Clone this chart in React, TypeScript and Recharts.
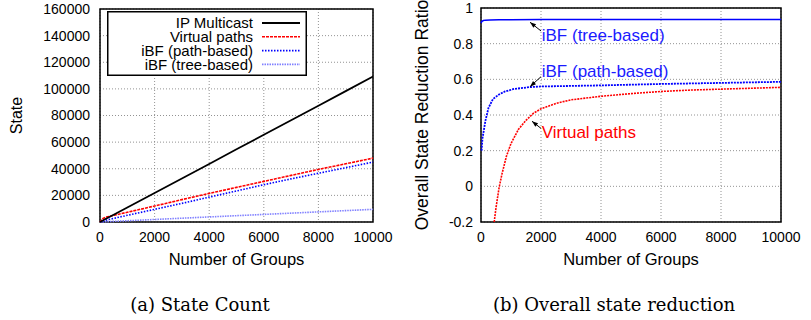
import React from 'react';
import { LineChart, Line, XAxis, YAxis, CartesianGrid, ReferenceArea, ReferenceDot, ReferenceLine } from 'recharts';

// ---- Left chart: state count ----
const groups = [0, 100, 200, 500, 1000, 2000, 3000, 4000, 5000, 6000, 7000, 8000, 9000, 10000];
const ipMulticast = [0, 1100, 2200, 5450, 10900, 21800, 32700, 43600, 54600, 65500, 76400, 87300, 98300, 109300];
const virtualPaths = [0, 2500, 3600, 5000, 7300, 12000, 16800, 21500, 26000, 30500, 35000, 39500, 43700, 48000];
const ibfPath = [0, 700, 1300, 2700, 5000, 9500, 14000, 18700, 23300, 28000, 32400, 36600, 40800, 45000];
const ibfTree = [0, 100, 200, 480, 950, 1900, 2850, 3800, 4750, 5700, 6650, 7600, 8550, 9500];
const stateTicks = [0, 20000, 40000, 60000, 80000, 100000, 120000, 140000, 160000];
const groupTicks = [0, 2000, 4000, 6000, 8000, 10000];
const seriesNames = ['IP Multicast', 'Virtual paths', 'iBF (path-based)', 'iBF (tree-based)'];

// ---- Right chart: overall state reduction ----
const treeX = [0, 30, 80, 150, 300, 600, 1000, 2000, 4000, 6000, 8000, 10000];
const treeY = [0.915, 0.925, 0.93, 0.932, 0.933, 0.934, 0.934, 0.935, 0.935, 0.935, 0.935, 0.935];
const pathX = [20, 50, 100, 150, 250, 400, 600, 800, 1100, 1600, 2000, 3000, 4000, 5000, 6000, 7000, 8000, 9000, 10000];
const pathY = [0.2, 0.27, 0.32, 0.37, 0.44, 0.49, 0.515, 0.532, 0.546, 0.556, 0.56, 0.563, 0.566, 0.57, 0.574, 0.577, 0.58, 0.583, 0.586];
const vpX = [440, 500, 600, 700, 850, 1000, 1250, 1500, 1750, 2000, 2500, 3000, 4000, 5000, 6000, 7000, 8000, 9000, 10000];
const vpY = [-0.2, -0.12, -0.01, 0.07, 0.17, 0.24, 0.32, 0.37, 0.41, 0.435, 0.465, 0.485, 0.505, 0.52, 0.532, 0.54, 0.545, 0.55, 0.555];
const ratioTicks = [-0.2, 0, 0.2, 0.4, 0.6, 0.8, 1];
const annotLabels = ['iBF (tree-based)', 'iBF (path-based)', 'Virtual paths'];
const annotX = [2025, 2025, 2025];
const annotY = [0.813, 0.615, 0.269];
const arrowFromX = [2002, 2002, 2000];
const arrowFromY = [0.871, 0.615, 0.325];
const arrowToX = [1635, 1635, 1700];
const arrowToY = [0.92, 0.559, 0.365];

const captions = ['(a) State Count', '(b) Overall state reduction'];

const leftData = groups.map((g, i) => ({ x: g, ip: ipMulticast[i], vp: virtualPaths[i], pb: ibfPath[i], tb: ibfTree[i] }));
const treeData = treeX.map((x, i) => ({ x, y: treeY[i] }));
const pathData = pathX.map((x, i) => ({ x, y: pathY[i] }));
const vpData = vpX.map((x, i) => ({ x, y: vpY[i] }));

const FONT = '"Liberation Sans", Arial, Helvetica, sans-serif';
const tickStyle = { fontSize: 14, fill: '#000', fontFamily: FONT };

const styles = [
  { stroke: '#000000', strokeWidth: 1.8, dash: undefined as string | undefined },
  { stroke: '#ff0000', strokeWidth: 1.6, dash: '3 1' },
  { stroke: '#0000ff', strokeWidth: 1.6, dash: '1.5 1.5' },
  { stroke: '#8080ff', strokeWidth: 1.6, dash: '1.5 1' },
];

const annotColors = ['#1a1aff', '#1a1aff', '#ff0000'];

const yLabel = (text: string, dx: number, size: number) => (props: any) => {
  const vb = props.viewBox || {};
  const cx = vb.x + dx;
  const cy = vb.y + vb.height / 2;
  return (
    <text x={cx} y={cy} transform={`rotate(-90, ${cx}, ${cy})`} textAnchor="middle" dy="0.35em"
      style={{ fontSize: size, fontFamily: FONT, fill: '#000' }}>{text}</text>
  );
};

const xLabel = (text: string, dy: number) => (props: any) => {
  const vb = props.viewBox || {};
  return (
    <text x={vb.x + vb.width / 2} y={vb.y + dy} textAnchor="middle"
      style={{ fontSize: 16.5, fontFamily: FONT, fill: '#000' }}>{text}</text>
  );
};

const arrowShape = (props: any) => {
  const { x1, y1, x2, y2 } = props;
  const ang = Math.atan2(y2 - y1, x2 - x1);
  const L = 6, W = 2.2;
  const bx = x2 - L * Math.cos(ang), by = y2 - L * Math.sin(ang);
  const px = -Math.sin(ang) * W, py = Math.cos(ang) * W;
  return (
    <g>
      <line x1={x1} y1={y1} x2={x2} y2={y2} stroke="#000" strokeWidth={1} />
      <polygon points={`${x2},${y2} ${bx + px},${by + py} ${bx - px},${by - py}`} fill="#000" />
    </g>
  );
};

const LeftChart = () => (
  <LineChart width={400} height={270} data={leftData} margin={{ top: 9, right: 27, bottom: 0, left: 0 }}>
    <CartesianGrid stroke="#777" strokeDasharray="1 2" strokeWidth={0.8} />
    <XAxis dataKey="x" type="number" domain={[0, 10000]} ticks={groupTicks} tickLine={false} axisLine={false}
      tick={tickStyle} tickMargin={4} height={48} interval={0} label={{ content: xLabel('Number of Groups', 43) }} />
    <YAxis type="number" domain={[0, 160000]} ticks={stateTicks} tickLine={false} axisLine={false}
      tick={tickStyle} tickMargin={4} width={100} interval={0} label={{ content: yLabel('State', 16, 16) }} />
    <Line dataKey="tb" name={seriesNames[3]} type="linear" dot={false} isAnimationActive={false}
      stroke={styles[3].stroke} strokeWidth={styles[3].strokeWidth} strokeDasharray={styles[3].dash} />
    <Line dataKey="pb" name={seriesNames[2]} type="linear" dot={false} isAnimationActive={false}
      stroke={styles[2].stroke} strokeWidth={styles[2].strokeWidth} strokeDasharray={styles[2].dash} />
    <Line dataKey="vp" name={seriesNames[1]} type="linear" dot={false} isAnimationActive={false}
      stroke={styles[1].stroke} strokeWidth={styles[1].strokeWidth} strokeDasharray={styles[1].dash} />
    <Line dataKey="ip" name={seriesNames[0]} type="linear" dot={false} isAnimationActive={false}
      stroke={styles[0].stroke} strokeWidth={styles[0].strokeWidth} />
    <ReferenceArea x1={0} x2={10000} y1={0} y2={160000} fill="none" stroke="#000" strokeWidth={1.5} fillOpacity={0} />
  </LineChart>
);

const RightChart = () => (
  <LineChart width={411} height={270} margin={{ top: 8, right: 30, bottom: 0, left: 0 }}>
    <CartesianGrid stroke="#777" strokeDasharray="1 2" strokeWidth={0.8} />
    <XAxis dataKey="x" type="number" domain={[0, 10000]} ticks={groupTicks} tickLine={false} axisLine={false}
      tick={tickStyle} tickMargin={4} height={48} interval={0} allowDuplicatedCategory={false}
      label={{ content: xLabel('Number of Groups', 43) }} />
    <YAxis type="number" domain={[-0.2, 1]} ticks={ratioTicks} tickLine={false} axisLine={false}
      tick={tickStyle} tickMargin={2} width={81} interval={0}
      tickFormatter={(v: number) => String(Math.round(v * 10) / 10)}
      label={{ content: yLabel('Overall State Reduction Ratio', 22, 17.5) }} />
    <Line data={vpData} dataKey="y" type="linear" dot={false} isAnimationActive={false}
      stroke="#ff0000" strokeWidth={1.6} strokeDasharray="2 1" />
    <Line data={pathData} dataKey="y" type="linear" dot={false} isAnimationActive={false}
      stroke="#0000ff" strokeWidth={1.8} strokeDasharray="2 1" />
    <Line data={treeData} dataKey="y" type="linear" dot={false} isAnimationActive={false}
      stroke="#0000ff" strokeWidth={1.5} />
    {annotLabels.map((_, i) => (
      <ReferenceLine key={'a' + i} segment={[{ x: arrowFromX[i], y: arrowFromY[i] }, { x: arrowToX[i], y: arrowToY[i] }]}
        shape={arrowShape} />
    ))}
    {annotLabels.map((t, i) => (
      <ReferenceDot key={'t' + i} x={annotX[i]} y={annotY[i]} r={0}
        shape={(p: any) => (
          <text x={p.cx} y={p.cy} fill={annotColors[i]} style={{ fontSize: 17, fontFamily: FONT }}>{t}</text>
        )} />
    ))}
    <ReferenceArea x1={0} x2={10000} y1={-0.2} y2={1} fill="none" stroke="#000" strokeWidth={1.5} fillOpacity={0} />
  </LineChart>
);

const LegendBox = () => (
  <svg width={200} height={65} style={{ position: 'absolute', left: 107, top: 11 }}>
    <rect x={0.75} y={0.75} width={198.5} height={63.5} fill="#fff" stroke="#000" strokeWidth={1.5} />
    {seriesNames.map((n, i) => {
      const cy = 12 + i * 13.8;
      return (
        <g key={n}>
          <text x={146} y={cy} dy="0.35em" textAnchor="end" style={{ fontSize: 15, fontFamily: FONT, fill: '#000' }}>{n}</text>
          <line x1={155} x2={193} y1={cy} y2={cy} stroke={styles[i].stroke} strokeWidth={styles[i].strokeWidth}
            strokeDasharray={styles[i].dash} />
        </g>
      );
    })}
  </svg>
);

export default function App() {
  return (
    <div style={{ position: 'absolute', left: 0, top: 0, width: 811, height: 320, background: '#fff', overflow: 'hidden' }}>
      <div style={{ position: 'absolute', left: 0, top: 0 }}>
        <LeftChart />
      </div>
      <LegendBox />
      <div style={{ position: 'absolute', left: 400, top: 0 }}>
        <RightChart />
      </div>
      <svg width={811} height={50} style={{ position: 'absolute', left: 0, top: 270 }}>
        <text x={200} y={40.5} textAnchor="middle" style={{ fontSize: 18, fontFamily: '"DejaVu Serif", serif', fill: '#000' }}>{captions[0]}</text>
        <text x={614} y={40.5} textAnchor="middle" style={{ fontSize: 18, fontFamily: '"DejaVu Serif", serif', fill: '#000' }}>{captions[1]}</text>
      </svg>
    </div>
  );
}
